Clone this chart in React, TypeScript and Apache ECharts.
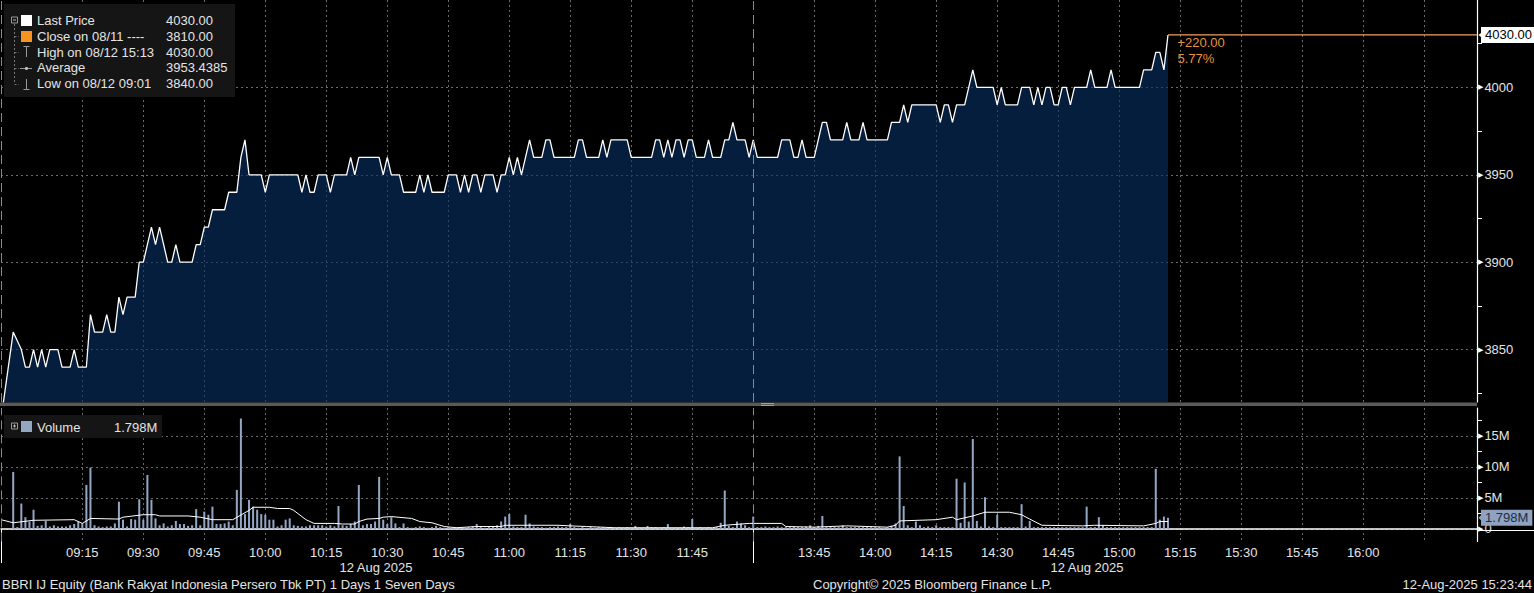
import React, { useEffect, useRef } from "react";
import * as echarts from "echarts";

// ---------- data ----------
const SESSIONS: [string, string][] = [
  ["08:55", "11:59"],
  ["13:30", "16:28"],
];
const toMin = (s: string) => +s.slice(0, 2) * 60 + +s.slice(3);
const fmt = (m: number) =>
  String(Math.floor(m / 60)).padStart(2, "0") + ":" + String(m % 60).padStart(2, "0");
const categories: string[] = [];
for (const [a, b] of SESSIONS) for (let m = toMin(a); m <= toMin(b); m++) categories.push(fmt(m));

// one value per minute bar, from 08:55
const price: (number | null)[] = [
  3810, null, null, 3860, 3855, 3850, 3840, 3840, 3850, 3840,
  3850, 3840, 3850, 3850, 3850, 3840, 3840, 3840, 3850, 3840,
  3840, 3840, 3870, 3860, 3860, 3860, 3870, 3860, 3860, 3880,
  3870, 3880, 3880, 3880, 3900, 3900, 3910, 3920, 3910, 3920,
  3910, 3900, 3900, 3910, 3900, 3900, 3900, 3900, 3910, 3910,
  3920, 3920, 3930, 3930, 3930, 3930, 3940, 3940, 3940, 3960,
  3970, 3950, 3950, 3950, 3950, 3940, 3950, 3950, 3950, 3950,
  3950, 3950, 3950, 3950, 3940, 3950, 3940, 3940, 3950, 3950,
  3950, 3940, 3950, 3950, 3950, 3950, 3960, 3950, 3960, 3960,
  3960, 3960, 3960, 3960, 3950, 3960, 3950, 3950, 3950, 3940,
  3940, 3940, 3940, 3950, 3940, 3950, 3940, 3940, 3940, 3940,
  3950, 3950, 3950, 3940, 3950, 3940, 3950, 3950, 3940, 3950,
  3950, 3950, 3940, 3950, 3950, 3960, 3950, 3960, 3950, 3960,
  3970, 3960, 3960, 3960, 3970, 3970, 3960, 3960, 3960, 3960,
  3960, 3960, 3970, 3970, 3960, 3960, 3960, 3960, 3970, 3960,
  3970, 3970, 3970, 3970, 3970, 3960, 3960, 3960, 3960, 3960,
  3960, 3970, 3970, 3960, 3970, 3960, 3970, 3970, 3960, 3970,
  3970, 3960, 3960, 3960, 3970, 3960, 3960, 3960, 3970, 3970,
  3980, 3970, 3970, 3970, 3960, 3970, 3960, 3960, 3960, 3960,
  3960, 3960, 3970, 3970, 3970, 3960, 3960, 3970, 3960, 3960,
  3960, 3970, 3980, 3980, 3970, 3970, 3970, 3970, 3980, 3970,
  3970, 3970, 3980, 3970, 3970, 3970, 3970, 3970, 3970, 3980,
  3980, 3980, 3990, 3980, 3990, 3990, 3990, 3990, 3990, 3990,
  3990, 3980, 3990, 3990, 3980, 3990, 3990, 3990, 4000, 4010,
  4000, 4000, 4000, 4000, 4000, 3990, 4000, 3990, 3990, 3990,
  3990, 4000, 4000, 4000, 3990, 4000, 3990, 4000, 4000, 3990,
  3990, 4000, 4000, 3990, 4000, 4000, 4000, 4000, 4010, 4000,
  4000, 4000, 4000, 4010, 4000, 4000, 4000, 4000, 4000, 4000,
  4000, 4010, 4010, 4010, 4020, 4020, 4010, 4030,
];

// volume per minute bar, millions of shares
const volume: number[] = [
  0, 0, 0, 9.2, 0.3, 4.1, 1.9, 1.2, 3.1, 0.5,
  0.6, 1.3, 0.4, 0.6, 0.4, 0.4, 0.4, 0.6, 0.8, 1.2,
  0.9, 7.1, 9.9, 0.6, 0.4, 0.3, 0.4, 0.4, 0.9, 4.4,
  1.5, 0.4, 1.6, 1.5, 4.8, 1.5, 8.7, 4.7, 1.7, 0.6,
  0.9, 0.4, 0.6, 1.3, 0.8, 0.8, 0.5, 0.6, 3.2, 0.6,
  2.8, 2.3, 3.6, 0.8, 0.8, 0.9, 1.2, 0.6, 6.3, 17.8,
  2.4, 4.7, 3.6, 3.1, 2.4, 2.3, 1.5, 1.5, 0.4, 0.6,
  1.5, 1.7, 0.6, 0.5, 0.4, 0.4, 0.6, 0.6, 0.6, 0.6,
  0.4, 0.6, 0.4, 3.7, 0.6, 0.5, 0.8, 1.2, 7.1, 0.6,
  0.8, 0.8, 1.2, 8.4, 1.5, 0.8, 1.9, 0.9, 0.3, 0.9,
  0.3, 0.2, 0.3, 0.4, 0.3, 0.2, 0.3, 0.5, 0.3, 0.2,
  0.3, 0.2, 0.3, 0.3, 0.2, 0.3, 0.4, 0.8, 0.3, 0.2,
  0.3, 0.4, 0.6, 1.2, 2.0, 2.4, 0.4, 0.3, 0.3, 2.3,
  0.9, 0.4, 0.3, 0.3, 0.2, 0.3, 0.3, 0.4, 0.3, 0.3,
  0.8, 0.3, 0.2, 0.3, 0.2, 0.3, 0.2, 0.3, 0.3, 0.2,
  0.3, 0.2, 0.3, 0.2, 0.3, 0.2, 0.5, 0.2, 0.2, 0.5,
  0.3, 0.3, 0.2, 0.3, 0.8, 0.2, 0.2, 0.2, 0.4, 0.3,
  1.6, 0.2, 0.3, 0.2, 0.3, 0.2, 0.3, 1.0, 6.2, 0.5,
  0.3, 1.2, 0.9, 0.6, 0.3, 2.0, 0.3, 0.3, 0.4, 0.3,
  0.3, 0.4, 0.3, 0.3, 0.3, 0.4, 0.3, 0.3, 0.4, 0.6,
  0.3, 0.5, 2.1, 0.3, 0.3, 0.3, 0.3, 0.6, 0.3, 0.3,
  0.3, 0.3, 0.3, 0.3, 0.3, 0.3, 0.3, 0.2, 0.3, 0.5,
  0.9, 11.7, 3.7, 0.6, 0.3, 1.2, 0.6, 0.3, 0.4, 0.3,
  0.6, 0.3, 0.3, 0.3, 0.3, 8.1, 1.0, 7.5, 1.2, 14.5,
  1.3, 0.4, 5.1, 0.4, 0.3, 2.3, 0.3, 0.3, 0.3, 0.3,
  0.3, 4.0, 0.4, 1.3, 0.3, 0.3, 0.3, 0.3, 0.3, 0.3,
  0.3, 0.3, 0.3, 0.3, 0.3, 0.3, 0.3, 3.6, 0.3, 0.3,
  1.9, 0.6, 0.3, 0.3, 0.3, 0.3, 0.3, 0.3, 0.3, 0.3,
  0.3, 0.3, 0.3, 0.3, 9.7, 1.5, 2.0, 1.798,
];

// volume average line, read as [bar index, millions]
const volumeAvg: [number, number][] = [
  [0, 1.5], [3, 1.0], [8, 1.4], [18, 1.5], [20, 0.9], [22, 1.7], [29, 1.6], [30, 1.9],
  [35, 2.3], [38, 2.3], [39, 2.1], [46, 2.1], [49, 1.9], [52, 1.5], [57, 1.5], [61, 3.0],
  [62, 3.5], [66, 3.5], [68, 3.3], [71, 3.3], [72, 3.0], [75, 1.5], [77, 0.9], [82, 0.9],
  [84, 0.8], [87, 0.8], [88, 1.2], [90, 1.6], [93, 1.7], [94, 1.9], [96, 2.0], [101, 1.7],
  [103, 1.2], [106, 1.0], [109, 0.4], [112, 0.2], [117, 0.4], [123, 0.4], [124, 0.6],
  [137, 0.6], [140, 0.5], [144, 0.4], [151, 0.2], [175, 0.2], [178, 0.6], [184, 0.9],
  [192, 0.9], [193, 0.4], [200, 0.3], [208, 0.5], [218, 0.3], [220, 0.6], [221, 1.3],
  [230, 1.5], [234, 1.9], [235, 1.5], [239, 2.1], [242, 2.7], [248, 2.7], [251, 2.3],
  [253, 1.6], [256, 0.6], [266, 0.5], [269, 0.6], [281, 0.5], [284, 0.9], [285, 1.2],
  [287, 1.2],
];

const prevClose = 3810;
const legendLabels = ["Last Price", "Close on 08/11 ----", "High on 08/12 15:13", "Average", "Low on 08/12 09:01"];
const legendValues = ["4030.00", "3810.00", "4030.00", "3953.4385", "3840.00"];
const dateLabel = "12 Aug 2025";
const footerLeft = "BBRI IJ Equity (Bank Rakyat Indonesia Persero Tbk PT) 1 Days 1 Seven Days";
const footerMid = "Copyright\u00A9 2025 Bloomberg Finance L.P.";
const footerRight = "12-Aug-2025 15:23:44";

// ---------- styling ----------
const FONT = '"Liberation Sans", Arial, sans-serif';
const TXT = "#e4e4e4";
const GRID = "#6a6a6a";
const VOLC = "#93a7c5";
const ORANGE_LINE = "#f2a060";

export default function App() {
  const ref = useRef<HTMLDivElement>(null);
  useEffect(() => {
    if (!ref.current) return;
    const chart = echarts.init(ref.current, null, { renderer: "svg" });
    const last = price.length - 1;
    const lastPrice = price[last] as number;
    const lastVol = volume[volume.length - 1];
    const endIdx = categories.length - 1;
    const endCat = categories[endIdx];
    const pmStart = categories.indexOf("13:30");
    const isGrid = (i: number) => {
      const c = categories[i];
      return +c.slice(3) % 15 === 0 && c !== "09:00" && c !== "13:30";
    };
    const isLabel = (i: number) => isGrid(i) && categories[i] !== "16:15";
    const isSession = (i: number) => i === 0 || i === pmStart;
    const diff = lastPrice - prevClose;
    const pct = (diff / prevClose) * 100;

    const sessLineStyle = { color: "#8a8a8a", type: [9, 5], width: 1 };
    const sessionLines = [
      { xAxis: categories[0], lineStyle: sessLineStyle },
      { xAxis: categories[pmStart], lineStyle: sessLineStyle },
    ];

    const yRich = {
      t: { fontSize: 7, color: "#fff", fontFamily: "DejaVu Sans", padding: [0, 1, 0, 0] },
      v: { fontSize: 13, color: TXT, fontFamily: FONT },
    };

    const txt = (x: number, y: number, text: string, extra: any = {}) => ({
      type: "text",
      x,
      y,
      z: 100,
      silent: true,
      style: { text, fill: TXT, fontSize: 13, fontFamily: FONT, verticalAlign: "middle", align: "left", ...extra },
    });
    const ln = (x1: number, y1: number, x2: number, y2: number, stroke = "#8c8c8c", dash?: number[]) => ({
      type: "line",
      z: 100,
      silent: true,
      shape: { x1, y1, x2, y2 },
      style: { stroke, lineWidth: 1, lineDash: dash },
    });
    const rowY = [20.5, 36.3, 52.1, 67.9, 83.7];
    const graphics: any[] = [
      { type: "rect", z: 99, silent: true, shape: { x: 4, y: 4, width: 231, height: 93 }, style: { fill: "#151515" } },
      ln(14.5, 24, 14.5, 84, "#777", [2, 2]),
      ln(14.5, 36.5, 19, 36.5, "#777", [2, 2]),
      ln(14.5, 52.5, 19, 52.5, "#777", [2, 2]),
      ln(14.5, 68.5, 19, 68.5, "#777", [2, 2]),
      ln(14.5, 84.5, 19, 84.5, "#777", [2, 2]),
      { type: "rect", z: 100, silent: true, shape: { x: 11.5, y: 17, width: 6, height: 6 }, style: { fill: "#151515", stroke: "#999", lineWidth: 1 } },
      ln(13, 20, 16, 20, "#bbb"),
      { type: "rect", z: 100, silent: true, shape: { x: 21, y: 15, width: 11, height: 11 }, style: { fill: "#ffffff" } },
      { type: "rect", z: 100, silent: true, shape: { x: 21, y: 31, width: 11, height: 11 }, style: { fill: "#f7931e" } },
      ln(26.5, 46.5, 26.5, 57, "#999"),
      ln(23.5, 46.5, 29.5, 46.5, "#999"),
      ln(20, 68.5, 32, 68.5, "#999"),
      { type: "circle", z: 100, silent: true, shape: { cx: 26.5, cy: 68.5, r: 1.6 }, style: { fill: "#bbb" } },
      ln(26.5, 79, 26.5, 89.5, "#999"),
      ln(23.5, 89.5, 29.5, 89.5, "#999"),
      ...legendLabels.map((l, i) => txt(37, rowY[i], l)),
      ...legendValues.map((v, i) => txt(166, rowY[i], v)),
      // panel separator
      { type: "rect", z: 100, silent: true, shape: { x: 0, y: 402.5, width: 1477, height: 3.5 }, style: { fill: "#5a5a5a" } },
      ln(761, 403.5, 774, 403.5, "#a0a0a0"),
      ln(761, 405.5, 774, 405.5, "#a0a0a0"),
      // volume legend
      { type: "rect", z: 99, silent: true, shape: { x: 4, y: 415, width: 158, height: 23 }, style: { fill: "#151515" } },
      { type: "rect", z: 100, silent: true, shape: { x: 11.5, y: 423, width: 6, height: 6 }, style: { fill: "#151515", stroke: "#999", lineWidth: 1 } },
      ln(13, 426, 16, 426, "#bbb"),
      ln(14.5, 424.5, 14.5, 427.5, "#bbb"),
      { type: "rect", z: 100, silent: true, shape: { x: 21, y: 421, width: 11, height: 11 }, style: { fill: VOLC } },
      txt(37, 427, "Volume"),
      txt(114, 427, lastVol.toFixed(3) + "M"),
      // underline of the volume value tag
      ln(1478, 530.5, 1534, 530.5, "#ffffff"),
      // dates & footer
      txt(376, 567, dateLabel, { align: "center" }),
      txt(1087, 567, dateLabel, { align: "center" }),
      txt(2, 584, footerLeft),
      txt(813, 584, footerMid),
      txt(1532, 584, footerRight, { align: "right" }),
    ];

    const option: any = {
      animation: false,
      backgroundColor: "#000",
      textStyle: { fontFamily: FONT },
      grid: [
        { left: 1, right: 57, top: 0, height: 402, containLabel: false, outerBoundsMode: "none" },
        { left: 1, right: 57, top: 408, height: 133.4, containLabel: false, outerBoundsMode: "none" },
      ],
      xAxis: [
        {
          type: "category",
          gridIndex: 0,
          data: categories,
          boundaryGap: false,
          axisLine: { show: false },
          axisTick: { show: false },
          axisLabel: { show: false },
          splitLine: { show: true, interval: (i: number) => isGrid(i), lineStyle: { color: GRID, type: [2, 3], width: 1 } },
        },
        {
          type: "category",
          gridIndex: 1,
          data: categories,
          boundaryGap: false,
          axisLine: { show: true, lineStyle: { color: "#ffffff", width: 1.5 } },
          axisTick: { show: true, interval: (i: number) => isSession(i), length: 34, lineStyle: { color: "#ffffff", width: 1 } },
          axisLabel: { show: true, interval: (i: number) => isLabel(i), color: TXT, fontSize: 13, fontFamily: FONT, margin: 5 },
          splitLine: { show: true, interval: (i: number) => isGrid(i), lineStyle: { color: GRID, type: [2, 3], width: 1 } },
        },
      ],
      yAxis: [
        {
          type: "value",
          gridIndex: 0,
          position: "right",
          min: 3820,
          max: 4050,
          minInterval: 50,
          maxInterval: 50,
          axisLine: { show: true, lineStyle: { color: "#ffffff", width: 1.2 } },
          axisTick: { show: false },
          minorTick: { show: true, splitNumber: 2, length: 5, lineStyle: { color: "#ffffff", width: 1 } },
          minorSplitLine: { show: false },
          axisLabel: {
            margin: 1,
            formatter: (v: number) => (v >= 3850 && v <= 4000 && v % 50 === 0 ? `{t|\u25B6}{v|${v}}` : ""),
            rich: yRich,
          },
          splitLine: { show: true, showMinLine: false, showMaxLine: false, lineStyle: { color: GRID, type: [2, 3], width: 1 } },
        },
        {
          type: "value",
          gridIndex: 1,
          position: "right",
          min: -2,
          max: 19.5,
          minInterval: 5,
          maxInterval: 5,
          axisLine: { show: true, lineStyle: { color: "#ffffff", width: 1.2 } },
          axisTick: { show: false },
          minorTick: { show: true, splitNumber: 2, length: 5, lineStyle: { color: "#ffffff", width: 1 } },
          minorSplitLine: { show: false },
          axisLabel: {
            margin: 1,
            formatter: (v: number) =>
              v === 0 ? `{t|\u25B6}{v|0}` : v > 0 && v < 19 && v % 5 === 0 ? `{t|\u25B6}{v|${v}M}` : "",
            rich: yRich,
          },
          splitLine: { show: true, showMinLine: false, showMaxLine: false, lineStyle: { color: GRID, type: [2, 3], width: 1 } },
        },
      ],
      series: [
        {
          name: "Last Price",
          type: "line",
          xAxisIndex: 0,
          yAxisIndex: 0,
          data: price,
          connectNulls: true,
          showSymbol: false,
          symbol: "none",
          clip: true,
          lineStyle: { color: "#ffffff", width: 1.3 },
          areaStyle: { color: "rgba(8,48,100,0.62)", opacity: 1, origin: "start" },
          z: 3,
          markLine: {
            silent: true,
            symbol: ["none", "none"],
            animation: false,
            label: { show: false },
            data: sessionLines,
          },
          markPoint: {
            silent: true,
            animation: false,
            data: [
              {
                coord: [categories[last], lastPrice],
                symbol: "circle",
                symbolSize: 1,
                itemStyle: { color: "rgba(0,0,0,0)" },
                label: {
                  show: true,
                  position: [10, 0],
                  align: "left",
                  verticalAlign: "top",
                  formatter: `+${diff.toFixed(2)}\n${pct.toFixed(2)}%`,
                  color: "#e8923a",
                  fontSize: 13,
                  lineHeight: 16,
                  fontFamily: FONT,
                },
              },
              {
                coord: [endCat, lastPrice],
                symbol: "triangle",
                symbolRotate: 90,
                symbolSize: [8, 5],
                symbolOffset: [4, 0],
                itemStyle: { color: "#ffffff" },
                label: { show: false },
              },
            ],
          },
        },
        {
          name: "Last Price Level",
          type: "line",
          xAxisIndex: 0,
          yAxisIndex: 0,
          data: [
            [last, lastPrice],
            [endIdx, lastPrice],
          ],
          showSymbol: false,
          symbol: "none",
          clip: false,
          lineStyle: { color: ORANGE_LINE, width: 1.2 },
          z: 5,
          label: { show: false },
          endLabel: {
            show: true,
            formatter: lastPrice.toFixed(2),
            backgroundColor: "#ffffff",
            color: "#000000",
            fontSize: 13,
            fontFamily: FONT,
            padding: [2, 4, 1, 4],
            distance: 4,
          },
        },
        {
          name: "Volume",
          type: "bar",
          xAxisIndex: 1,
          yAxisIndex: 1,
          data: volume,
          barWidth: 2,
          itemStyle: { color: VOLC },
          z: 2,
          markLine: {
            silent: true,
            symbol: ["none", "none"],
            animation: false,
            label: { show: false },
            z: 10,
            data: [
              ...sessionLines,
              [
                {
                  coord: [categories[last], lastVol],
                  lineStyle: { color: "rgba(0,0,0,0)", width: 0 },
                  label: {
                    show: true,
                    position: "end",
                    distance: 4,
                    formatter: lastVol.toFixed(3) + "M",
                    backgroundColor: "#8fa3c1",
                    color: "#1d2c44",
                    fontSize: 13,
                    fontFamily: FONT,
                    padding: [2, 4, 1, 4],
                  },
                },
                { coord: [endCat, lastVol], lineStyle: { color: "rgba(0,0,0,0)", width: 0 } },
              ],
            ],
          },
          markPoint: {
            silent: true,
            animation: false,
            data: [
              {
                coord: [endCat, lastVol],
                symbol: "triangle",
                symbolRotate: 90,
                symbolSize: [10, 5],
                symbolOffset: [4, 0],
                itemStyle: { color: "#8fa3c1" },
                label: { show: false },
              },
            ],
          },
        },
        {
          name: "Volume Avg",
          type: "line",
          xAxisIndex: 1,
          yAxisIndex: 1,
          data: volumeAvg,
          showSymbol: false,
          symbol: "none",
          lineStyle: { color: "#ffffff", width: 1 },
          z: 4,
        },
      ],
      graphic: { elements: graphics },
    };
    chart.setOption(option);
    return () => chart.dispose();
  }, []);
  return (
    <div
      ref={ref}
      style={{ position: "fixed", left: 0, top: 0, width: 1534, height: 593, background: "#000" }}
    />
  );
}
